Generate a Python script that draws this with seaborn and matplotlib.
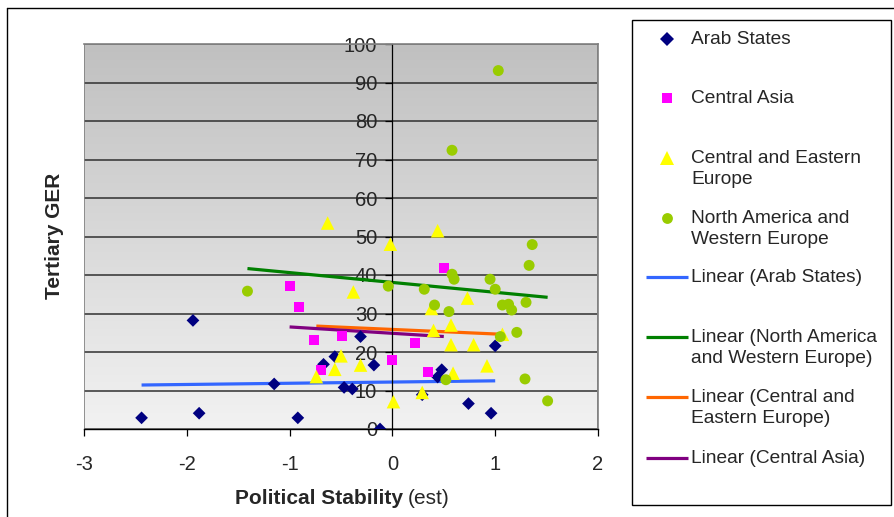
import numpy as np
import pandas as pd
import matplotlib
matplotlib.use("Agg")
import matplotlib.pyplot as plt
import seaborn as sns
from matplotlib.lines import Line2D
from matplotlib.patches import Rectangle
from matplotlib.colors import LinearSegmentedColormap

# ---- data ----
arab_x = [-2.44, -1.94, -1.88, -1.15, -0.92, -0.67, -0.56, -0.47, -0.39, -0.31,
          -0.18, -0.12, 0.29, 0.44, 0.48, 0.74, 0.96, 1.00]
arab_y = [2.9, 28.2, 4.1, 11.7, 2.9, 16.8, 18.8, 10.8, 10.4, 24.0,
          16.6, 0.0, 8.9, 13.5, 15.4, 6.6, 4.1, 21.6]

ca_x = [-1.00, -0.91, -0.76, -0.69, -0.49, 0.00, 0.22, 0.35, 0.50]
ca_y = [37.1, 31.8, 23.1, 15.2, 24.2, 18.0, 22.3, 14.9, 41.7]

cee_x = [-0.63, -0.02, 0.44, -0.38, 0.73, 0.38, 0.40, 0.57, 0.57, 0.79,
         1.07, 0.92, 0.59, 0.29, 0.01, -0.50, -0.31, -0.56, -0.74]
cee_y = [53.5, 48.0, 51.5, 35.6, 34.0, 31.3, 25.6, 27.0, 21.9, 21.9,
         24.6, 16.4, 14.5, 9.5, 7.1, 19.0, 16.6, 15.5, 13.6]

na_x = [-1.41, -0.04, 0.31, 0.41, 0.55, 0.58, 0.60, 0.58, 1.03, 0.95, 1.00,
        1.07, 1.13, 1.16, 1.30, 1.33, 1.36, 1.21, 1.05, 1.29, 1.51, 0.52]
na_y = [35.8, 37.1, 36.3, 32.2, 30.5, 40.2, 38.9, 72.4, 93.1, 38.9, 36.3,
        32.2, 32.4, 30.9, 32.9, 42.5, 47.9, 25.1, 24.0, 13.0, 7.3, 12.8]

groups = ["Arab States", "Central Asia", "Central and Eastern Europe",
          "North America and Western Europe"]
xticks = [-3, -2, -1, 0, 1, 2]
yticks = list(range(0, 101, 10))

df = pd.concat([
    pd.DataFrame({"x": arab_x, "y": arab_y, "g": groups[0]}),
    pd.DataFrame({"x": ca_x, "y": ca_y, "g": groups[1]}),
    pd.DataFrame({"x": cee_x, "y": cee_y, "g": groups[2]}),
    pd.DataFrame({"x": na_x, "y": na_y, "g": groups[3]}),
], ignore_index=True)

# ---- styles ----
pt_color = {groups[0]: "#000080", groups[1]: "#FF00FF",
            groups[2]: "#FFFF00", groups[3]: "#99CC00"}
pt_marker = {groups[0]: "D", groups[1]: "s", groups[2]: "^", groups[3]: "o"}
pt_size = {groups[0]: 42, groups[1]: 52, groups[2]: 95, groups[3]: 62}
ln_color = {groups[0]: "#3366FF", groups[3]: "#008000",
            groups[2]: "#FF6600", groups[1]: "#800080"}
trend_order = [groups[0], groups[3], groups[2], groups[1]]

sns.set_theme(style="white")
plt.rcParams["font.family"] = ["Liberation Sans", "DejaVu Sans"]

W, H = 894, 517
fig = plt.figure(figsize=(W / 100, H / 100), dpi=100)
fig.patch.set_facecolor("white")


def fx(px):
    return px / W


def fy(py):
    return 1 - py / H


ax = fig.add_axes([fx(84), fy(429), fx(598) - fx(84), fy(44) - fy(429)])

# gradient plot-area background
cmap = LinearSegmentedColormap.from_list("bg", ["#f2f2f2", "#c0c0c0"])
ax.imshow(np.linspace(0, 1, 256).reshape(-1, 1), extent=[-3, 2, 0, 100],
          aspect="auto", cmap=cmap, origin="lower", zorder=-1,
          interpolation="bilinear")

# scatter series
for g in groups:
    sub = df[df["g"] == g]
    sns.scatterplot(data=sub, x="x", y="y", ax=ax, color=pt_color[g],
                    marker=pt_marker[g], s=pt_size[g], linewidth=0,
                    edgecolor="none", zorder=3, legend=False)

# linear trendlines
for g in trend_order:
    sub = df[df["g"] == g]
    sns.regplot(data=sub, x="x", y="y", ax=ax, scatter=False, ci=None,
                truncate=True, line_kws=dict(color=ln_color[g], lw=2.3,
                                             zorder=2.5, solid_capstyle="butt"))

ax.set_xlim(-3, 2)
ax.set_ylim(0, 100)
ax.set_xticks(xticks)
ax.set_yticks(yticks)
ax.set_xticklabels([str(v) for v in xticks])
ax.set_yticklabels([str(v) for v in yticks])
ax.set_xlabel("")
ax.set_ylabel("")

ax.set_axisbelow(True)
ax.yaxis.grid(True, color="#303030", lw=1.1)
ax.xaxis.grid(False)

for s in ["top", "right"]:
    ax.spines[s].set_color("#808080")
    ax.spines[s].set_linewidth(1.2)
ax.spines["left"].set_position(("data", 0))
ax.spines["left"].set_color("black")
ax.spines["left"].set_linewidth(0.9)
ax.spines["bottom"].set_color("black")
ax.spines["bottom"].set_linewidth(1.0)
ax.add_patch(Rectangle((0, 0), 1, 1, transform=ax.transAxes, fill=False,
                       edgecolor="#808080", lw=1.2, zorder=0.6))

ax.tick_params(axis="y", direction="out", length=5, width=0.9,
               color="black", labelsize=14.5, pad=6, left=True)
ax.tick_params(axis="x", direction="out", length=5, width=0.9,
               color="black", labelsize=14.5, pad=14, bottom=True)

# axis titles
fig.text(fx(55), fy(236), "Tertiary GER", rotation=90, ha="center",
         va="center", fontsize=15, fontweight="bold")
fig.text(fx(403), fy(498), "Political Stability", ha="right", va="center",
         fontsize=15, fontweight="bold")
fig.text(fx(408), fy(498), "(est)", ha="left", va="center", fontsize=15)

# outer chart border
fig.add_artist(Line2D([fx(7), fx(7)], [fy(8), 0], transform=fig.transFigure,
                      color="black", lw=1.0))
fig.add_artist(Line2D([fx(7), 1], [fy(8), fy(8)], transform=fig.transFigure,
                      color="black", lw=1.0))

# legend box
fig.add_artist(Rectangle((fx(632), fy(505)), fx(891) - fx(632),
                         fy(20) - fy(505), transform=fig.transFigure,
                         fill=False, edgecolor="black", lw=1.0))

leg_labels = ["Arab States", "Central Asia", "Central and Eastern\nEurope",
              "North America and\nWestern Europe", "Linear (Arab States)",
              "Linear (North America\nand Western Europe)",
              "Linear (Central and\nEastern Europe)", "Linear (Central Asia)"]
leg_y = [39, 98, 158, 218, 277, 337, 397, 458]
ms_map = {"D": 6.8, "s": 7.2, "^": 9.5, "o": 7.8}
for i, lab in enumerate(leg_labels):
    y = leg_y[i]
    if i < 4:
        g = groups[i]
        fig.add_artist(Line2D([fx(667)], [fy(y)], transform=fig.transFigure,
                              marker=pt_marker[g], ms=ms_map[pt_marker[g]],
                              color=pt_color[g], mew=0, ls="none"))
    else:
        g = trend_order[i - 4]
        fig.add_artist(Line2D([fx(646), fx(688)], [fy(y), fy(y)],
                              transform=fig.transFigure, color=ln_color[g],
                              lw=2.3, solid_capstyle="butt"))
    fig.text(fx(691), fy(y - 8), lab, ha="left", va="top", fontsize=13.8,
             linespacing=1.32)

fig.savefig("out.png", dpi=100)
